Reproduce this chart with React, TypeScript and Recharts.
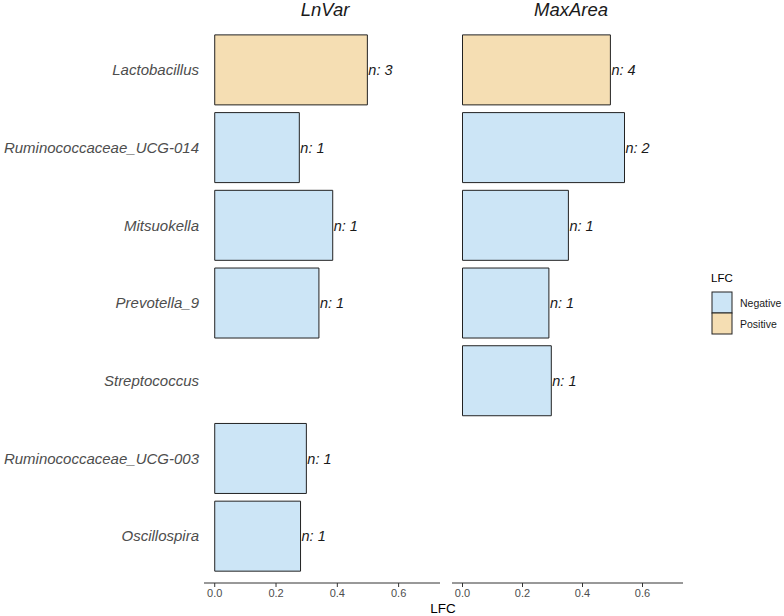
import React from 'react';
import { BarChart, Bar, XAxis, YAxis, Cell, LabelList } from 'recharts';

const FONT = '"Liberation Sans", Arial, Helvetica, sans-serif';

const genera = [
  'Lactobacillus',
  'Ruminococcaceae_UCG-014',
  'Mitsuokella',
  'Prevotella_9',
  'Streptococcus',
  'Ruminococcaceae_UCG-003',
  'Oscillospira',
];
const direction = ['Positive', 'Negative', 'Negative', 'Negative', 'Negative', 'Negative', 'Negative'];
const lnVarLFC = [0.498, 0.276, 0.385, 0.34, null, 0.299, 0.28];
const lnVarN = [3, 1, 1, 1, null, 1, 1];
const maxAreaLFC = [0.493, 0.54, 0.353, 0.288, 0.296, null, null];
const maxAreaN = [4, 2, 1, 1, 1, null, null];
const xTicks = [0, 0.2, 0.4, 0.6];
const panelTitles = ['LnVar', 'MaxArea'];
const legendItems = ['Negative', 'Positive'];
const fillColors: Record<string, string> = { Negative: '#CCE5F6', Positive: '#F5DEB3' };

const renderCount = (p: any) => {
  if (p.value == null) return null;
  const vb = p.viewBox && p.viewBox.width !== undefined ? p.viewBox : p;
  const x = Number(vb.x) + Number(vb.width) + 1;
  const y = Number(vb.y) + Number(vb.height) / 2;
  return (
    <text x={x} y={y} dy="0.36em" fontSize={14.5} fontStyle="italic" fill="#1a1a1a" fontFamily={FONT}>
      {`n: ${p.value}`}
    </text>
  );
};

function Panel(props: {
  values: (number | null)[];
  counts: (number | null)[];
  showY: boolean;
  left: number;
  width: number;
  margin: { top: number; right: number; bottom: number; left: number };
}) {
  const data = genera.map((g, i) => ({ genus: g, lfc: props.values[i], n: props.counts[i], dir: direction[i] }));
  return (
    <div style={{ position: 'absolute', left: props.left, top: 0 }}>
      <BarChart width={props.width} height={616} data={data} layout="vertical" margin={props.margin} barCategoryGap="5%">
        <XAxis
          type="number"
          dataKey="lfc"
          domain={[-0.035, 0.735]}
          allowDataOverflow
          ticks={xTicks}
          interval={0}
          tickFormatter={(v: number) => v.toFixed(1)}
          tick={{ fill: '#4d4d4d', fontSize: 11, fontFamily: FONT }}
          stroke="#333333"
          tickSize={4}
          tickMargin={2}
          height={30}
        />
        <YAxis
          type="category"
          dataKey="genus"
          hide={!props.showY}
          width={204}
          axisLine={false}
          tickLine={false}
          tickSize={0}
          tickMargin={5}
          interval={0}
          padding={{ top: 8, bottom: 8 }}
          tick={{ fill: '#4d4d4d', fontSize: 15, fontStyle: 'italic', fontFamily: FONT }}
        />
        <Bar dataKey="lfc" isAnimationActive={false} stroke="#222222" strokeWidth={1}>
          {data.map((d, i) => (
            <Cell key={i} fill={fillColors[d.dir]} />
          ))}
          <LabelList dataKey="n" content={renderCount} />
        </Bar>
      </BarChart>
    </div>
  );
}

export default function App() {
  return (
    <div style={{ position: 'absolute', left: 0, top: 0, width: 784, height: 616, background: '#fff', fontFamily: FONT }}>
      <Panel
        values={lnVarLFC}
        counts={lnVarN}
        showY
        left={0}
        width={445}
        margin={{ top: 23, right: 5, bottom: 3, left: 0 }}
      />
      <Panel
        values={maxAreaLFC}
        counts={maxAreaN}
        showY={false}
        left={440}
        width={250}
        margin={{ top: 23, right: 7, bottom: 3, left: 12 }}
      />
      <svg width={784} height={616} style={{ position: 'absolute', left: 0, top: 0, pointerEvents: 'none' }}>
        <text x={325} y={16} textAnchor="middle" fontSize={18.5} fontStyle="italic" fill="#1a1a1a" fontFamily={FONT}>
          {panelTitles[0]}
        </text>
        <text x={571} y={16} textAnchor="middle" fontSize={18.5} fontStyle="italic" fill="#1a1a1a" fontFamily={FONT}>
          {panelTitles[1]}
        </text>
        <text x={443} y={613} textAnchor="middle" fontSize={13.5} fill="#000" fontFamily={FONT}>
          LFC
        </text>
        <text x={711} y={282} fontSize={11.5} fill="#000" fontFamily={FONT}>
          LFC
        </text>
        {legendItems.map((k, i) => (
          <g key={k}>
            <rect x={712} y={292} width={20} height={21} transform={`translate(0 ${i * 21})`} fill={fillColors[k]} stroke="#222222" strokeWidth={1} />
            <text x={740} y={306.5 + i * 21} fontSize={10.5} fill="#1a1a1a" fontFamily={FONT}>
              {k}
            </text>
          </g>
        ))}
      </svg>
    </div>
  );
}
